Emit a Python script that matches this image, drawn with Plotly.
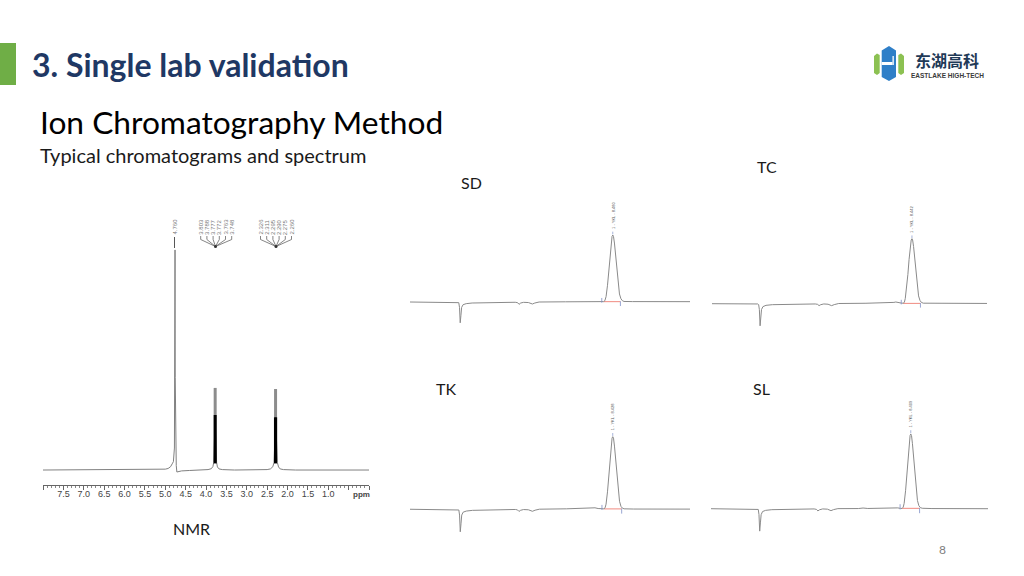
import plotly.graph_objects as go

W, H = 1024, 576

# ---------- NMR data ----------
nmr_ppm = [8.0, 6.5, 5.4, 5.15, 5.0, 4.93, 4.87, 4.83, 4.80, 4.775, 4.765, 4.76, 4.755, 4.745, 4.73, 4.715, 4.69, 4.6, 4.4, 4.1,
           3.95, 3.87, 3.83, 3.81, 3.775, 3.74, 3.72, 3.68, 3.6, 3.3, 2.8, 2.5, 2.42, 2.36, 2.33, 2.29, 2.25, 2.22, 2.18, 2.1, 1.8, 1.0, 0.0]
nmr_int = [0.0, 0.05, 0.1, 0.2, 0.4, 0.7, 1.5, 2.8, 3.8, 10.0, 45.0, 100.0, 42.0, 6.0, 2.0, -0.9, -0.8, -0.4, -0.2, 0.0,
           0.2, 0.6, 1.6, 3.5, 24.0, 3.5, 1.4, 0.5, 0.2, 0.0, 0.0, 0.2, 0.5, 1.5, 3.5, 24.0, 3.5, 1.4, 0.5, 0.2, 0.0, 0.0, 0.0]
multiplet_a_ppm = [3.803, 3.788, 3.777, 3.772, 3.763, 3.748]
multiplet_b_ppm = [2.326, 2.311, 2.295, 2.290, 2.275, 2.260]
multiplet_centres = [3.775, 2.293]
multiplet_floor = [3.0, 3.0]
multiplet_dense_top = [25.0, 24.0]
multiplet_top = [37.3, 36.8]
nmr_ticks = [8.0, 7.5, 7.0, 6.5, 6.0, 5.5, 5.0, 4.5, 4.0, 3.5, 3.0, 2.5, 2.0, 1.5, 1.0, 0.5, 0.0]
nmr_ticktext = ["", "7.5", "7.0", "6.5", "6.0", "5.5", "5.0", "4.5", "4.0", "3.5", "3.0", "2.5", "2.0", "1.5", "1.0", "", ""]

# ---------- chromatogram data ----------
sd_t = [0.0, 1.2, 2.0, 2.04, 2.07, 2.10, 2.13, 2.16, 2.22, 2.35, 2.6, 3.2, 4.4, 4.5, 4.56, 4.63, 4.75, 4.95, 5.05, 5.12, 5.22, 5.4, 6.5, 7.8,
        8.10, 8.15, 8.20, 8.26, 8.31, 8.36, 8.41, 8.45, 8.48, 8.51, 8.55, 8.60, 8.65, 8.70, 8.76, 8.82, 8.88, 8.95, 9.3, 11.71]
sd_v = [0.0, -0.2, -0.3, -1.0, -8.0, -31.0, -20.0, -8.0, -4.0, -2.5, -1.5, -0.8, -0.4, -1.0, -3.5, -1.5, -0.5, -0.8, -2.5, -3.0, -1.5, 0.0, 0.3, 0.5,
        0.6, 2.0, 8.0, 25.0, 45.0, 68.0, 88.0, 98.0, 100.0, 98.0, 88.0, 68.0, 45.0, 27.0, 12.0, 5.0, 2.0, 0.8, 0.6, 0.5]
tc_t = [0.0, 1.2, 1.93, 1.97, 2.00, 2.03, 2.06, 2.09, 2.15, 2.28, 2.55, 3.2, 4.36, 4.46, 4.52, 4.59, 4.72, 4.9, 5.0, 5.05, 5.16, 5.35, 6.5, 7.5, 7.68, 7.76, 7.86, 8.0,
        8.07, 8.12, 8.16, 8.22, 8.27, 8.32, 8.37, 8.41, 8.442, 8.47, 8.51, 8.56, 8.61, 8.66, 8.72, 8.78, 8.84, 8.92, 9.3, 11.61]
tc_v = [0.0, -0.2, -0.4, -1.5, -9.0, -34.0, -22.0, -9.0, -4.5, -2.5, -1.5, -0.8, -0.4, -1.0, -3.0, -1.5, -0.4, -0.8, -2.6, -3.0, -1.4, 0.3, 0.7, 1.2, 2.0, 2.6, 1.6, 0.9,
        0.8, 2.0, 8.0, 25.0, 45.0, 68.0, 88.0, 98.0, 100.0, 98.0, 88.0, 68.0, 45.0, 27.0, 12.0, 5.0, 2.0, 0.8, 0.6, 0.4]
tk_t = [0.0, 1.2, 1.99, 2.03, 2.06, 2.09, 2.12, 2.15, 2.21, 2.34, 2.6, 3.2, 4.38, 4.47, 4.53, 4.6, 4.72, 4.92, 5.02, 5.09, 5.2, 5.38, 6.5, 7.3, 7.55, 7.69, 7.82, 8.0,
        8.06, 8.11, 8.15, 8.21, 8.26, 8.31, 8.36, 8.40, 8.428, 8.46, 8.50, 8.55, 8.60, 8.65, 8.71, 8.77, 8.83, 8.90, 9.3, 11.64]
tk_v = [0.0, -0.2, -0.3, -1.0, -8.0, -31.0, -20.0, -8.0, -4.0, -2.5, -1.5, -0.8, -0.3, -0.9, -3.0, -1.4, -0.4, -0.7, -2.4, -2.8, -1.3, 0.1, 0.6, 0.9, 1.2, 2.0, 1.0, 0.6,
        0.6, 2.0, 7.0, 24.0, 44.0, 67.0, 87.0, 98.0, 100.0, 98.0, 87.0, 67.0, 44.0, 26.0, 11.0, 4.0, 1.5, 0.6, 0.3, 0.2]
sl_t = [0.0, 1.2, 1.95, 1.99, 2.02, 2.05, 2.08, 2.11, 2.17, 2.3, 2.56, 3.2, 4.34, 4.44, 4.50, 4.57, 4.7, 4.9, 5.0, 5.05, 5.16, 5.34, 6.2, 6.4, 6.6, 7.4, 7.65, 7.75, 7.86, 7.98,
        8.04, 8.09, 8.13, 8.19, 8.24, 8.29, 8.34, 8.38, 8.409, 8.44, 8.48, 8.53, 8.58, 8.63, 8.69, 8.75, 8.81, 8.89, 9.3, 11.66]
sl_v = [0.0, -0.2, -0.3, -1.0, -8.0, -30.0, -19.0, -8.0, -3.8, -2.2, -1.3, -0.7, -0.3, -0.9, -3.0, -1.4, -0.3, -0.6, -2.2, -2.6, -1.2, 0.1, 0.2, 0.9, 0.3, 0.8, 1.6, 2.0, 1.1, 0.4,
        0.4, 2.0, 7.0, 24.0, 44.0, 67.0, 87.0, 98.0, 100.0, 98.0, 87.0, 67.0, 44.0, 26.0, 11.0, 4.0, 1.5, 0.6, 0.2, 0.0]

panel_names = ["SD", "TC", "TK", "SL"]
panel_times = [sd_t, tc_t, tk_t, sl_t]
panel_values = [sd_v, tc_v, tk_v, sl_v]
panel_labels = ["1 - YKL - 8.480", "1 - YKL - 8.442", "1 - YKL - 8.428", "1 - YKL - 8.409"]
panel_apex = [8.48, 8.442, 8.428, 8.409]
panel_foot_start = [8.10, 8.07, 8.06, 8.04]
panel_foot_end = [8.80, 8.80, 8.80, 8.78]
panel_duration = [11.71, 11.61, 11.64, 11.66]
# pixel rectangles: left, right, top, bottom
panel_boxes = [(410, 690, 228.3, 328.8), (712, 987, 232.2, 329.7), (410, 690, 429.4, 538.3), (711, 988, 426.5, 538.6)]
nmr_box = (43, 369, 240, 485)

ppm_labels_a = ["3.803", "3.788", "3.777", "3.772", "3.763", "3.748"]
ppm_labels_b = ["2.326", "2.311", "2.295", "2.290", "2.275", "2.260"]

INK = "#8a8a8a"


def px(x):
    return x / W


def py(y):
    return 1 - y / H


fig = go.Figure()

# NMR axes
fig.update_layout(
    xaxis=dict(domain=[px(nmr_box[0]), px(nmr_box[1])], range=[8.0, 0.0], anchor="y", showgrid=False, zeroline=False,
               showline=True, linecolor="#666666", linewidth=1, ticks="outside", ticklen=4, tickwidth=1, tickcolor="#666666",
               tickvals=nmr_ticks, ticktext=nmr_ticktext, ticklabelstandoff=-4,
               tickfont=dict(family="Liberation Sans", size=9, color="#444444"),
               minor=dict(dtick=0.1, ticks="outside", ticklen=2, tickcolor="#888888", tickwidth=0.7)),
    yaxis=dict(domain=[py(nmr_box[3]), py(nmr_box[2])], range=[-6.8, 104.5], anchor="x", visible=False),
)
fig.add_trace(go.Scatter(x=nmr_ppm, y=nmr_int, mode="lines", line=dict(color="#808080", width=1), hoverinfo="skip", xaxis="x", yaxis="y"))
for c, f, d, t in zip(multiplet_centres, multiplet_floor, multiplet_dense_top, multiplet_top):
    fig.add_trace(go.Scatter(x=[c, c], y=[d, t], mode="lines", line=dict(color="#8c8c8c", width=3), hoverinfo="skip", xaxis="x", yaxis="y"))
    fig.add_trace(go.Scatter(x=[c, c], y=[f, d], mode="lines", line=dict(color="#000000", width=3.2), hoverinfo="skip", xaxis="x", yaxis="y"))

# Chromatogram panels
for i, box in enumerate(panel_boxes):
    n = i + 2
    xa, ya = f"x{n}", f"y{n}"
    fig.update_layout({
        f"xaxis{n}": dict(domain=[px(box[0]), px(box[1])], range=[0, panel_duration[i]], anchor=ya, visible=False),
        f"yaxis{n}": dict(domain=[py(box[3]), py(box[2])], range=[-40, 110], anchor=xa, visible=False),
    })
    fig.add_trace(go.Scatter(x=[panel_foot_start[i], panel_foot_end[i]], y=[0.5, 0.5], mode="lines",
                             line=dict(color="#f08a80", width=1), hoverinfo="skip", xaxis=xa, yaxis=ya))
    fig.add_trace(go.Scatter(x=panel_times[i], y=panel_values[i], mode="lines", name=panel_names[i],
                             line=dict(color=INK, width=1), hoverinfo="skip", xaxis=xa, yaxis=ya))
    fig.add_trace(go.Scatter(x=[panel_foot_start[i] - 0.08] * 2, y=[-1, 6], mode="lines",
                             line=dict(color="#7f8fc8", width=0.8), hoverinfo="skip", xaxis=xa, yaxis=ya))
    fig.add_trace(go.Scatter(x=[panel_foot_end[i]] * 2, y=[-6, 1], mode="lines",
                             line=dict(color="#7f8fc8", width=0.8), hoverinfo="skip", xaxis=xa, yaxis=ya))
    fig.add_trace(go.Scatter(x=[panel_apex[i]] * 2, y=[101, 105], mode="lines",
                             line=dict(color="#8f9fd0", width=0.8), hoverinfo="skip", xaxis=xa, yaxis=ya))
    fig.add_annotation(x=panel_apex[i], y=105, xref=xa, yref=ya, text=panel_labels[i], textangle=-90, showarrow=False,
                       xanchor="center", yanchor="bottom", yshift=1,
                       font=dict(family="Liberation Sans", size=4, color="#555555"))


def text(x, y, s, size, color="#000000", family="Lato", anchor="left", bold=False, angle=0):
    fig.add_annotation(x=px(x), y=py(y), xref="paper", yref="paper", text=f"<b>{s}</b>" if bold else s, showarrow=False,
                       xanchor=anchor, yanchor="middle", textangle=angle, borderpad=0,
                       font=dict(family=family, size=size, color=color))


text(31, 64, "3. Single lab validation", 32, "#1f3864", bold=True)
text(39, 122, "Ion Chromatography Method", 31.7, "#000000")
text(39, 155, "Typical chromatograms and spectrum", 20, "#1a1a1a")
text(471.5, 182.5, "SD", 16, "#1a1a1a", anchor="center")
text(767, 166, "TC", 16, "#1a1a1a", anchor="center")
text(446, 388, "TK", 16, "#1a1a1a", anchor="center")
text(761.5, 388, "SL", 16, "#1a1a1a", anchor="center")
text(191, 528, "NMR", 16, "#1a1a1a", anchor="center")
text(942, 549, "8", 12, "#808080", anchor="center")
text(361.5, 494, "ppm", 8, "#444444", family="Liberation Sans", anchor="center", bold=True)
text(947, 60.5, "东湖高科", 16, "#1f3a57", family="Noto Sans CJK SC", anchor="center", bold=True)
text(947, 75, "EASTLAKE HIGH-TECH", 6.5, "#3a3a3a", family="Liberation Sans", anchor="center", bold=True)

# rotated NMR peak labels and connector fans
text(174.5, 227, "4.760", 6, "#777777", family="Liberation Sans", anchor="center", angle=-90)
shapes = []


def seg(x0, y0, x1, y1, color="#666666", width=0.8):
    shapes.append(dict(type="line", xref="paper", yref="paper", x0=px(x0), y0=py(y0), x1=px(x1), y1=py(y1),
                       line=dict(color=color, width=width)))


seg(174.5, 237, 174.5, 248, "#444444", 0.9)
for labels, x_first, hub in [(ppm_labels_a, 200.7, 215.5), (ppm_labels_b, 260.5, 276)]:
    for j, lab in enumerate(labels):
        lx = x_first + j * 6.2
        text(lx, 227, lab, 6, "#777777", family="Liberation Sans", anchor="center", angle=-90)
        seg(lx, 236, lx, 239.5)
        seg(lx, 239.5, hub, 246.5)
    shapes.append(dict(type="circle", xref="paper", yref="paper", x0=px(hub - 1.5), x1=px(hub + 1.5),
                       y0=py(248), y1=py(245), fillcolor="#333333", line=dict(width=0)))

# header accent
shapes.append(dict(type="rect", xref="paper", yref="paper", x0=0, x1=px(16), y0=py(85), y1=py(43),
                   fillcolor="#6fae46", line=dict(width=0)))


def poly(points, color):
    path = "M " + " L ".join(f"{px(x):.5f},{py(y):.5f}" for x, y in points) + " Z"
    shapes.append(dict(type="path", xref="paper", yref="paper", path=path, fillcolor=color, line=dict(width=0)))


# logo
poly([(874, 56), (877, 53.5), (879.7, 55), (879.7, 73), (877, 75), (874, 73)], "#8cc152")
poly([(898.3, 55), (901, 53.5), (904, 56), (904, 73), (901, 75), (898.3, 73)], "#8cc152")
poly([(881.7, 50.5), (889, 46), (896, 50.5), (896, 77), (889, 81), (881.7, 77)], "#2f7fc8")
poly([(881.7, 62), (892.5, 62), (892.5, 65), (881.7, 65)], "#ffffff")
poly([(892.5, 56), (893.8, 56), (893.8, 65), (892.5, 65)], "#ffffff")

fig.update_layout(width=W, height=H, margin=dict(l=0, r=0, t=0, b=0), paper_bgcolor="#ffffff", plot_bgcolor="#ffffff",
                  showlegend=False, shapes=shapes)

fig.write_html("out.html", config={"displayModeBar": False},
               post_script="document.body.style.margin='0';document.body.style.overflow='hidden';")
